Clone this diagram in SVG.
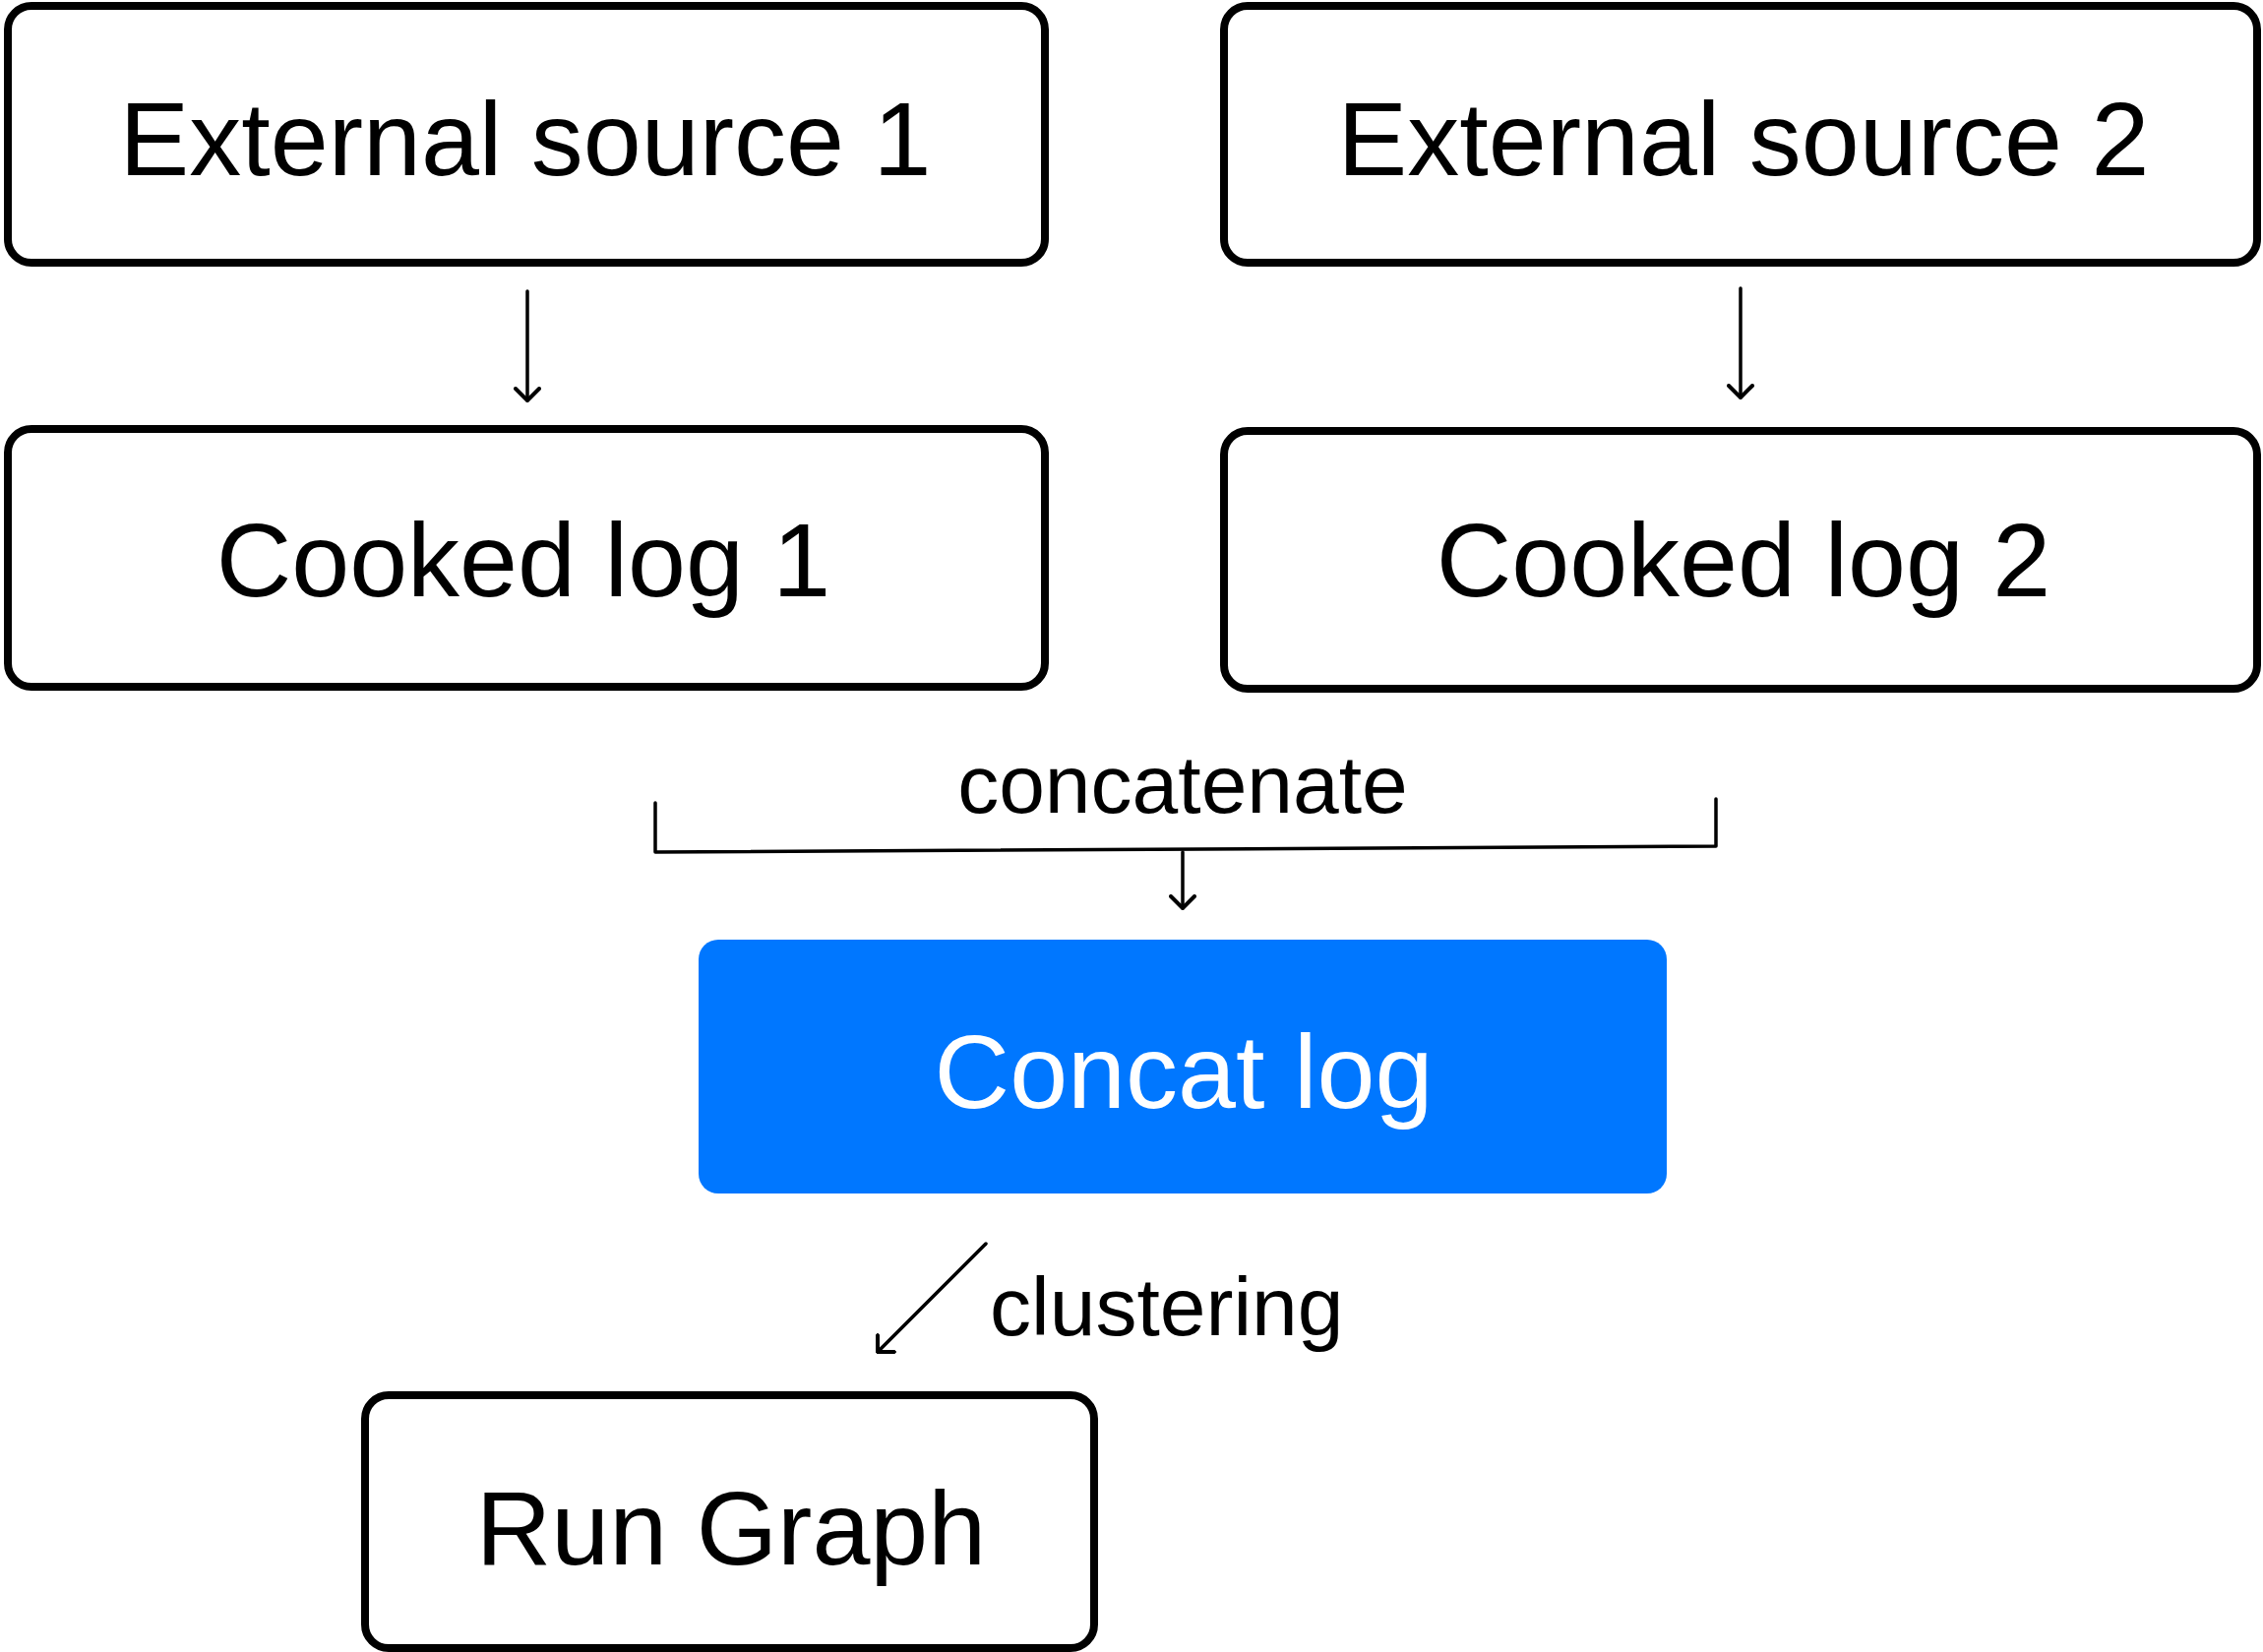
<svg xmlns="http://www.w3.org/2000/svg" width="2300" height="1679" viewBox="0 0 2300 1679">
<style>
.box{fill:#ffffff;stroke:#000000;stroke-width:8}
.lbl{font-family:"Liberation Sans",Arial,sans-serif;font-size:106px;fill:#000000;text-anchor:middle}
.elbl{font-family:"Liberation Sans",Arial,sans-serif;font-size:84px;fill:#000000}
.edge{fill:none;stroke:#000000;stroke-width:3.5;stroke-linecap:round;stroke-linejoin:round}
</style>
<defs>
<marker id="arr" viewBox="-14 -14 16 28" markerWidth="16" markerHeight="28" refX="0" refY="0" orient="auto" markerUnits="userSpaceOnUse">
<path d="M-12,-12 L0,0 L-12,12" fill="none" stroke="#000000" stroke-width="4" stroke-linecap="round" stroke-linejoin="round"/>
</marker>
</defs>
<rect width="2300" height="1679" fill="#ffffff"/>
<g id="es1">
<rect class="box" x="8" y="6" width="1054" height="261" rx="24"/>
<text class="lbl" x="534" y="178">External source 1</text>
</g>
<g id="es2">
<rect class="box" x="1244" y="6" width="1050" height="261" rx="24"/>
<text class="lbl" x="1772" y="178">External source 2</text>
</g>
<g id="cl1">
<rect class="box" x="8" y="436" width="1054" height="262" rx="24"/>
<text class="lbl" x="532" y="606">Cooked log 1</text>
</g>
<g id="cl2">
<rect class="box" x="1244" y="438" width="1050" height="262" rx="24"/>
<text class="lbl" x="1772" y="606">Cooked log 2</text>
</g>
<g id="concat">
<rect x="710" y="955" width="984" height="258" rx="20" fill="#0077FF"/>
<text class="lbl" x="1203" y="1126" style="fill:#ffffff">Concat log</text>
</g>
<g id="rungraph">
<rect class="box" x="371" y="1418" width="741" height="257" rx="24"/>
<text class="lbl" x="743" y="1590">Run Graph</text>
</g>
<g id="connectors">
<line class="edge" x1="536" y1="296" x2="536" y2="407" marker-end="url(#arr)"/>
<line class="edge" x1="1769" y1="293" x2="1769" y2="404" marker-end="url(#arr)"/>
<polyline class="edge" points="666,816 666,866 1744,860 1744,812"/>
<line class="edge" x1="1202" y1="866" x2="1202" y2="923" marker-end="url(#arr)"/>
<line class="edge" x1="1002" y1="1264" x2="892" y2="1374" marker-end="url(#arr)"/>
<text class="elbl" x="1202" y="826" text-anchor="middle">concatenate</text>
<text class="elbl" x="1006" y="1357">clustering</text>
</g>
</svg>
